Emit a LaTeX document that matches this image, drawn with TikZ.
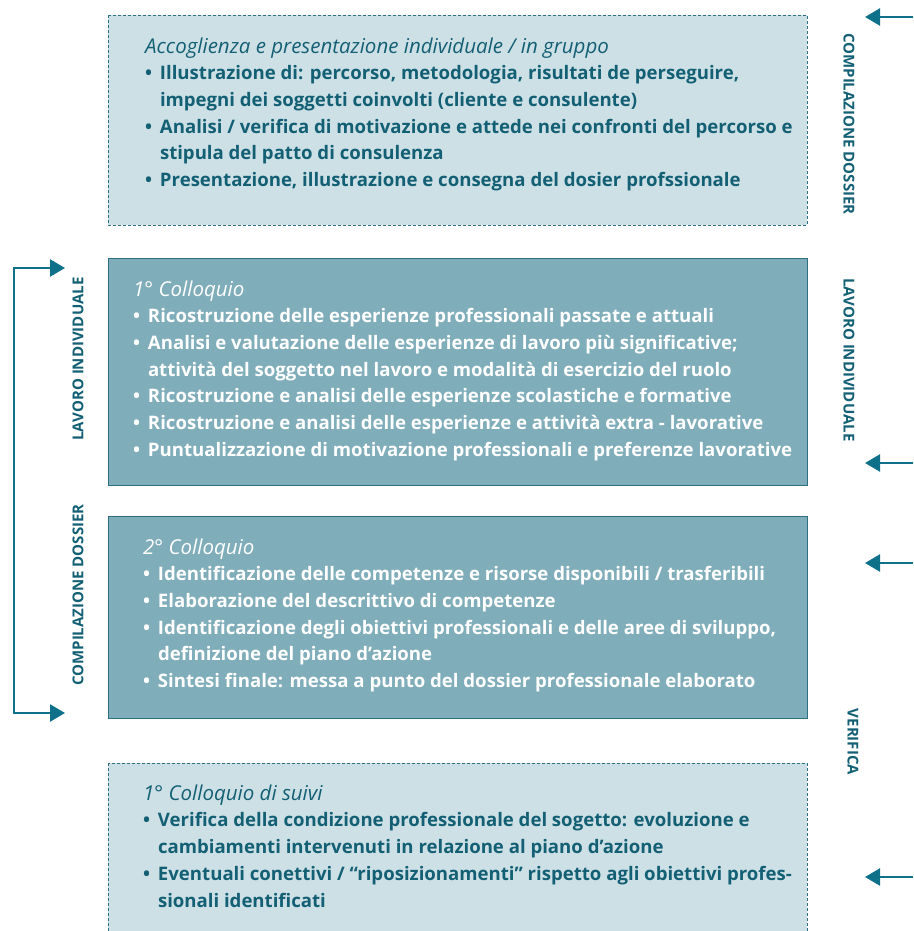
\documentclass[tikz,border=0pt]{standalone}
\usepackage{fontspec}
\setmainfont{Open Sans}[Ligatures=NoCommon]
\usetikzlibrary{arrows.meta}
\definecolor{ink}{HTML}{135F74}
\definecolor{teal}{HTML}{0E7089}
\definecolor{pale}{HTML}{CDE0E6}
\definecolor{mid}{HTML}{7FADBA}
\definecolor{edge}{HTML}{2F6F82}
\newcommand{\bul}{•\hspace{0.42em}}
\newcommand{\ind}{\phantom{•}\hspace{0.42em}}
\newcommand{\hd}[1]{\strut{\mdseries\itshape\fontsize{20.5}{26.7}\selectfont #1}}
\begin{document}
\begin{tikzpicture}[x=1pt,y=-1pt,
  palebox/.style={draw=edge, dashed, dash pattern=on 3pt off 2pt, line width=0.9pt, fill=pale},
  midbox/.style={draw=edge, line width=1pt, fill=mid},
  boxtext/.style={anchor=north west, inner sep=0pt, align=left,
    font=\fontsize{18.6}{26.7}\selectfont\bfseries},
  sidelabel/.style={inner sep=0pt, text=ink, font=\fontsize{15}{16}\selectfont\bfseries},
  flow/.style={draw=teal, line width=2.4pt, -{Triangle[length=15pt,width=17pt]}}
]
\useasboundingbox (0,0) rectangle (913,931);

% ---- boxes ----
\path[palebox] (108,15) rectangle (807,225);
\path[midbox]  (108,258) rectangle (807,485);
\path[midbox]  (108,516) rectangle (807,718);
\path[palebox] (108,763) rectangle (807,940);

% ---- box contents ----
\node[boxtext, text=ink] (t1) at (145,34.3) {%
\hd{Accoglienza e presentazione individuale / in gruppo}\\
\bul Illustrazione di: percorso, metodologia, risultati de perseguire,\\
\ind impegni dei soggetti coinvolti (cliente e consulente)\\
\bul Analisi / verifica di motivazione e attede nei confronti del percorso e\\
\ind stipula del patto di consulenza\\
\bul Presentazione, illustrazione e consegna del dosier profssionale};

\node[boxtext, text=white] (t2) at (133,277.3) {%
\hd{1° Colloquio}\\
\bul Ricostruzione delle esperienze professionali passate e attuali\\
\bul Analisi e valutazione delle esperienze di lavoro più significative;\\
\ind attività del soggetto nel lavoro e modalità di esercizio del ruolo\\
\bul Ricostruzione e analisi delle esperienze scolastiche e formative\\
\bul Ricostruzione e analisi delle esperienze e attività extra - lavorative\\
\bul Puntualizzazione di motivazione professionali e preferenze lavorative};

\node[boxtext, text=white] (t3) at (143,535.3) {%
\hd{2° Colloquio}\\
\bul Identificazione delle competenze e risorse disponibili / trasferibili\\
\bul Elaborazione del descrittivo di competenze\\
\bul Identificazione degli obiettivi professionali e delle aree di sviluppo,\\
\ind definizione del piano d’azione\\
\bul Sintesi finale: messa a punto del dossier professionale elaborato};

\node[boxtext, text=ink] (t4) at (143,781.3) {%
\hd{1° Colloquio di suivi}\\
\bul Verifica della condizione professionale del sogetto: evoluzione e\\
\ind cambiamenti intervenuti in relazione al piano d’azione\\
\bul Eventuali conettivi / “riposizionamenti” rispetto agli obiettivi profes-\\
\ind sionali identificati};

% ---- side labels ----
\node[sidelabel, rotate=90]  (l1) at (78,359) {LAVORO INDIVIDUALE};
\node[sidelabel, rotate=90]  (l2) at (78,595) {COMPILAZIONE DOSSIER};
\node[sidelabel, rotate=-90] (r1) at (849,124) {COMPILAZIONE DOSSIER};
\node[sidelabel, rotate=-90] (r2) at (849,360) {LAVORO INDIVIDUALE};
\node[sidelabel, rotate=-90] (r3) at (853,742) {VERIFICA};

% ---- left bracket ----
\coordinate (bt) at (14,268);
\coordinate (bb) at (14,713);
\coordinate (btip) at (65,268);
\coordinate (bbip) at (65,713);
\draw[flow] (bb) -- (bt) -- (btip);
\draw[flow] (bt) -- (bb) -- (bbip);

% ---- right arrows ----
\foreach \yy/\nm in {17/a, 463/b, 563/c, 877/d} {
  \coordinate (s\nm) at (913,\yy);
  \coordinate (e\nm) at (865,\yy);
  \draw[flow] (s\nm) -- (e\nm);
}
\end{tikzpicture}
\end{document}
